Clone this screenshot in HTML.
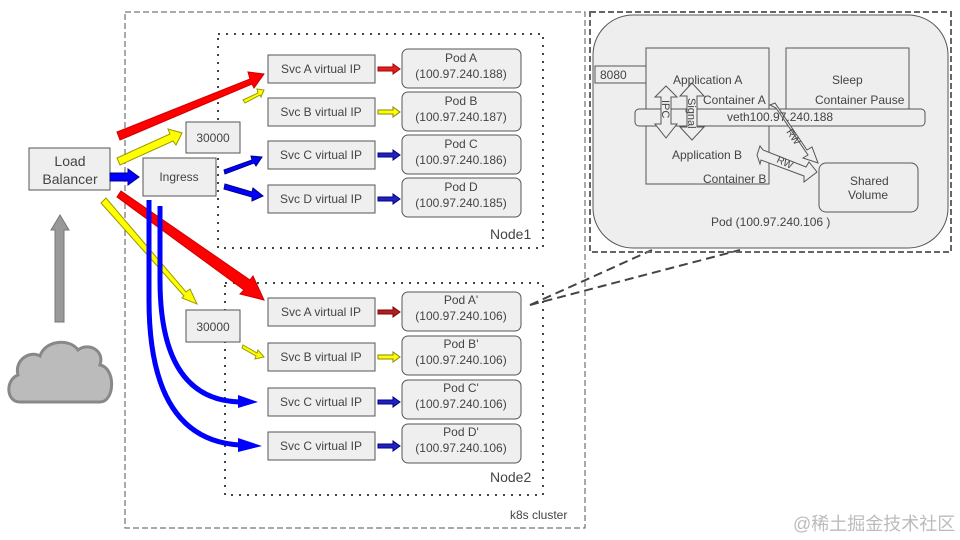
<!DOCTYPE html>
<html><head><meta charset="utf-8"><style>
html,body{margin:0;padding:0;background:#fff;}
svg{display:block;font-family:"Liberation Sans",Arial,sans-serif;}
text{fill:#444;}
</style></head><body>
<svg width="960" height="540" viewBox="0 0 960 540" xmlns="http://www.w3.org/2000/svg">
<!-- cluster -->
<rect x="125" y="12" width="460" height="516" fill="none" stroke="#555" stroke-dasharray="6,3"/>
<text x="510" y="519" font-size="12">k8s cluster</text>
<!-- nodes -->
<rect x="218" y="34" width="325" height="214" fill="none" stroke="#444" stroke-width="2" stroke-dasharray="2,6"/>
<text x="490" y="239" font-size="14">Node1</text>
<rect x="225" y="283" width="318" height="212" fill="none" stroke="#444" stroke-width="2" stroke-dasharray="2,6"/>
<text x="490" y="482" font-size="14">Node2</text>

<g fill="#efefef" stroke="#555">
<rect x="268" y="55" width="107" height="28"/>
<rect x="268" y="98" width="107" height="28"/>
<rect x="268" y="141" width="107" height="28"/>
<rect x="268" y="185" width="107" height="28"/>
<rect x="268" y="298" width="107" height="28"/>
<rect x="268" y="343" width="107" height="28"/>
<rect x="268" y="388" width="107" height="28"/>
<rect x="268" y="432" width="107" height="28"/>
<rect x="402" y="49" width="119" height="39" rx="6"/>
<rect x="402" y="92" width="119" height="39" rx="6"/>
<rect x="402" y="135" width="119" height="39" rx="6"/>
<rect x="402" y="178" width="119" height="39" rx="6"/>
<rect x="402" y="292" width="119" height="39" rx="6"/>
<rect x="402" y="336" width="119" height="39" rx="6"/>
<rect x="402" y="380" width="119" height="39" rx="6"/>
<rect x="402" y="424" width="119" height="39" rx="6"/>
<rect x="29" y="148" width="81" height="42"/>
<rect x="143" y="158" width="73" height="38"/>
<rect x="186" y="122" width="54" height="31"/>
<rect x="186" y="310" width="54" height="32"/>
</g>
<g font-size="12" text-anchor="middle">
<text x="321" y="73">Svc A virtual IP</text>
<text x="321" y="116">Svc B virtual IP</text>
<text x="321" y="159">Svc C virtual IP</text>
<text x="321" y="203">Svc D virtual IP</text>
<text x="321" y="316">Svc A virtual IP</text>
<text x="321" y="361">Svc B virtual IP</text>
<text x="321" y="406">Svc C virtual IP</text>
<text x="321" y="450">Svc C virtual IP</text>
<text x="461" y="62">Pod A</text><text x="461" y="78">(100.97.240.188)</text>
<text x="461" y="105">Pod B</text><text x="461" y="121">(100.97.240.187)</text>
<text x="461" y="148">Pod C</text><text x="461" y="164">(100.97.240.186)</text>
<text x="461" y="191">Pod D</text><text x="461" y="207">(100.97.240.185)</text>
<text x="461" y="304">Pod A'</text><text x="461" y="320">(100.97.240.106)</text>
<text x="461" y="348">Pod B'</text><text x="461" y="364">(100.97.240.106)</text>
<text x="461" y="392">Pod C'</text><text x="461" y="408">(100.97.240.106)</text>
<text x="461" y="436">Pod D'</text><text x="461" y="452">(100.97.240.106)</text>
<text x="70" y="166" font-size="14">Load</text>
<text x="70" y="184" font-size="14">Balancer</text>
<text x="179" y="181">Ingress</text>
<text x="213" y="142">30000</text>
<text x="213" y="331">30000</text>
</g>

<g stroke-width="1">
<path d="M378,67 h15 v-3 l7,5 l-7,5 v-3 h-15z" fill="#d22" stroke="#a00"/>
<path d="M378,110 h15 v-3 l7,5 l-7,5 v-3 h-15z" fill="#ff0" stroke="#880"/>
<path d="M378,153 h15 v-3 l7,5 l-7,5 v-3 h-15z" fill="#22b" stroke="#008"/>
<path d="M378,197 h15 v-3 l7,5 l-7,5 v-3 h-15z" fill="#22b" stroke="#008"/>
<path d="M378,310 h15 v-3 l7,5 l-7,5 v-3 h-15z" fill="#a22" stroke="#800"/>
<path d="M378,355 h15 v-3 l7,5 l-7,5 v-3 h-15z" fill="#ff0" stroke="#880"/>
<path d="M378,400 h15 v-3 l7,5 l-7,5 v-3 h-15z" fill="#22b" stroke="#008"/>
<path d="M378,444 h15 v-3 l7,5 l-7,5 v-3 h-15z" fill="#22b" stroke="#008"/>
</g>

<polygon points="117,132 250,79 248,72 264,74 254,88 252,84 120,140" fill="#f00" stroke="#c00"/>
<polygon points="117,158 170,134 168,129 182,133 176,145 173,141 120,165" fill="#ff0" stroke="#990"/>
<polygon points="243,100 258,93 257,89 264,90 261,97 260,95 245,103" fill="#ff0" stroke="#990"/>
<polygon points="110,173 128,173 128,169 139,177 128,185 128,181 110,181" fill="#00f" stroke="#008"/>
<polygon points="224,170 252,160 251,156 262,157 256,166 254,163 225,174" fill="#00f" stroke="#008"/>
<polygon points="225,184 252,192 253,188 263,196 252,201 252,197 224,189" fill="#00f" stroke="#008"/>
<polygon points="121,191 250,280 253,276 264,300 240,294 244,290 117,197" fill="#f00" stroke="#c00"/>
<polygon points="106,198 186,292 190,289 197,304 182,298 184,296 101,203" fill="#ff0" stroke="#990"/>
<polygon points="243,345 257,353 258,350 264,357 255,359 256,356 242,348" fill="#ff0" stroke="#990"/>
<path d="M149,200 V300 Q149,440 240,445" fill="none" stroke="#00f" stroke-width="5"/>
<polygon points="238,438 262,446 238,452" fill="#00f"/>
<path d="M160,206 V280 Q160,400 240,402" fill="none" stroke="#00f" stroke-width="5"/>
<polygon points="238,395 258,402 238,408" fill="#00f"/>
<polygon points="55,322 55,230 51,230 60,215 69,230 64,230 64,322" fill="#999" stroke="#777"/>
<path d="M20,402 C6,402 5,380 18,375 C14,360 30,350 40,356 C45,340 70,338 78,350 C88,342 105,350 100,365 C116,368 115,402 100,402 Z" fill="#bbb" stroke="#888" stroke-width="3"/>

<line x1="530" y1="305" x2="652" y2="250" stroke="#444" stroke-width="2" stroke-dasharray="9,5"/>
<line x1="530" y1="305" x2="740" y2="250" stroke="#444" stroke-width="2" stroke-dasharray="9,5"/>

<rect x="590" y="12" width="361" height="240" fill="none" stroke="#666" stroke-width="2" stroke-dasharray="6,3"/>
<rect x="593" y="15" width="355" height="233" rx="40" fill="#eee" stroke="#555"/>
<rect x="646" y="48" width="123" height="136" fill="#eee" stroke="#555"/>
<rect x="786" y="48" width="123" height="61" fill="#eee" stroke="#555"/>
<rect x="595" y="66" width="51" height="17" fill="#eee" stroke="#555"/>
<rect x="635" y="109" width="290" height="17" rx="4" fill="#eee" stroke="#555"/>
<rect x="819" y="163" width="99" height="49" rx="7" fill="#eee" stroke="#555"/>
<g fill="#eee" stroke="#555">
<polygon points="666,86 677,97 671,97 671,124 677,124 666,138 655,124 661,124 661,97 655,97"/>
<polygon points="692,83 704,96 697,96 697,127 704,127 692,140 680,127 687,127 687,96 680,96"/>
<polygon points="770,105 775,103 807,150 812,147 818,163 803,158 808,155 776,108"/>
<polygon points="757,155 760,146 763,150 806,167 809,162 817,172 804,182 804,176 761,160 760,164"/>
</g>
<g font-size="12">
<text x="600" y="79">8080</text>
<text x="673" y="84">Application A</text>
<text x="703" y="104">Container A</text>
<text x="832" y="84">Sleep</text>
<text x="815" y="104">Container Pause</text>
<text x="727" y="121">veth100.97.240.188</text>
<text x="672" y="159">Application B</text>
<text x="703" y="183">Container B</text>
<text x="850" y="185">Shared</text>
<text x="848" y="199">Volume</text>
<text x="711" y="226">Pod (100.97.240.106 )</text>
<text font-size="11" transform="translate(662,100) rotate(90)">IPC</text>
<text font-size="11" transform="translate(688,98) rotate(90)">Signal</text>
<text font-size="10" transform="translate(786,132) rotate(55)">RW</text>
<text font-size="10" transform="translate(776,162) rotate(25)">RW</text>
</g>
<text x="793" y="530" font-size="18" style="fill:#bbb" font-family="'Liberation Sans','Noto Sans CJK SC',sans-serif">@稀土掘金技术社区</text>
</svg>
</body></html>
